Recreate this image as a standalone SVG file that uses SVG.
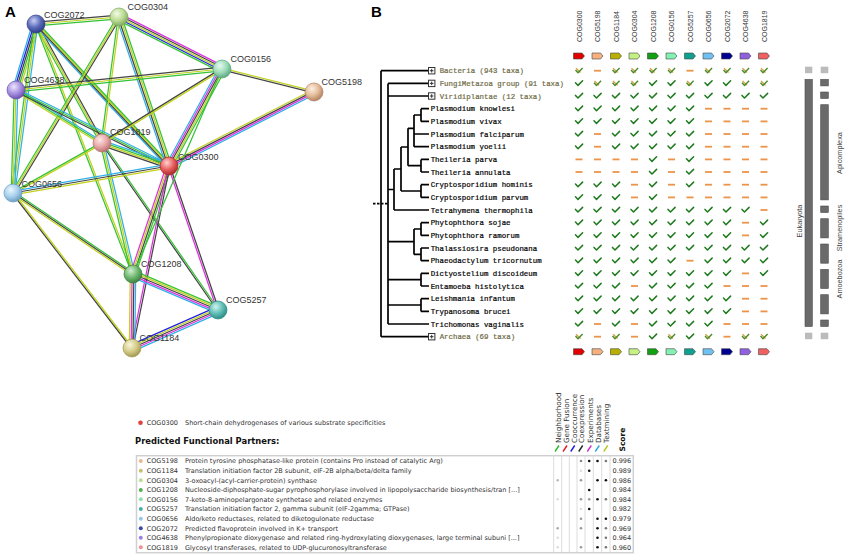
<svg xmlns="http://www.w3.org/2000/svg" width="850" height="555" viewBox="0 0 850 555">
<style>
.hd{font-family:"Liberation Sans",Arial,sans-serif;font-size:15px;font-weight:bold;fill:#000}
.nl{font-family:"Liberation Sans",Arial,sans-serif;font-size:9px;fill:#333}
.cn{fill:none;stroke-width:1.25}
.G{stroke:#36c236}.Y{stroke:#c0d21e}.K{stroke:#444}.C{stroke:#30b0e6}.M{stroke:#e030e0}.B{stroke:#2020e0}
.tx{font-family:"Liberation Mono","DejaVu Sans Mono",monospace;font-size:7.4px;fill:#000;stroke:#000;stroke-width:0.2}
.cl{fill:#6e6b45;stroke:#6e6b45}
.tr{fill:none;stroke:#000;stroke-width:1.7}
.ch{font-family:"Liberation Sans",Arial,sans-serif;font-size:7px;fill:#333}
.bl{fill:#bbb}
.bd{fill:#6a6a6a;stroke:#4a4a4a;stroke-width:.6}
.sl{font-family:"Liberation Sans",Arial,sans-serif;font-size:7.3px;fill:#444}
.ft{font-family:"DejaVu Sans",Verdana,sans-serif;font-size:6.5px;fill:#333}
.ev{font-family:"DejaVu Sans",Verdana,sans-serif;font-size:7.2px;fill:#333}
.nd{stroke-width:.7}
</style>
<defs>
<radialGradient id="g2072" cx="0.38" cy="0.32" r="0.7"><stop offset="0" stop-color="#c8cef4"/><stop offset="0.55" stop-color="#5a6ab8"/><stop offset="1" stop-color="#2e3a86"/></radialGradient>
<radialGradient id="g0304" cx="0.38" cy="0.32" r="0.7"><stop offset="0" stop-color="#f2fce4"/><stop offset="0.55" stop-color="#bcdc94"/><stop offset="1" stop-color="#7fa860"/></radialGradient>
<radialGradient id="g0156" cx="0.38" cy="0.32" r="0.7"><stop offset="0" stop-color="#e6faf0"/><stop offset="0.55" stop-color="#9edcb8"/><stop offset="1" stop-color="#5aa682"/></radialGradient>
<radialGradient id="g5198" cx="0.38" cy="0.32" r="0.7"><stop offset="0" stop-color="#fdf0e4"/><stop offset="0.55" stop-color="#e4bc98"/><stop offset="1" stop-color="#b08060"/></radialGradient>
<radialGradient id="g4638" cx="0.38" cy="0.32" r="0.7"><stop offset="0" stop-color="#ece6fc"/><stop offset="0.55" stop-color="#a890e0"/><stop offset="1" stop-color="#6a50b0"/></radialGradient>
<radialGradient id="g1819" cx="0.38" cy="0.32" r="0.7"><stop offset="0" stop-color="#fde8e8"/><stop offset="0.55" stop-color="#e8a8a8"/><stop offset="1" stop-color="#b87070"/></radialGradient>
<radialGradient id="g0300" cx="0.38" cy="0.32" r="0.7"><stop offset="0" stop-color="#ffd0d0"/><stop offset="0.55" stop-color="#e86060"/><stop offset="1" stop-color="#a82828"/></radialGradient>
<radialGradient id="g0656" cx="0.38" cy="0.32" r="0.7"><stop offset="0" stop-color="#eaf6fe"/><stop offset="0.55" stop-color="#a8d0ec"/><stop offset="1" stop-color="#6a9cc4"/></radialGradient>
<radialGradient id="g1208" cx="0.38" cy="0.32" r="0.7"><stop offset="0" stop-color="#d0eed0"/><stop offset="0.55" stop-color="#70b870"/><stop offset="1" stop-color="#3a803a"/></radialGradient>
<radialGradient id="g5257" cx="0.38" cy="0.32" r="0.7"><stop offset="0" stop-color="#d0f4f0"/><stop offset="0.55" stop-color="#60beb6"/><stop offset="1" stop-color="#2a8a84"/></radialGradient>
<radialGradient id="g1184" cx="0.38" cy="0.32" r="0.7"><stop offset="0" stop-color="#f8f6dc"/><stop offset="0.55" stop-color="#d4cc88"/><stop offset="1" stop-color="#a09850"/></radialGradient>
<path id="eAP" d="M36,24L119,17"/>
<path id="eAQ" d="M36,24L16,90"/>
<path id="eAO" d="M36,24L13,193"/>
<path id="eAL" d="M36,24L102,143"/>
<path id="eAR" d="M36,24L169,166"/>
<path id="eAN" d="M36,24L133,274"/>
<path id="ePF" d="M119,17L222,69"/>
<path id="ePR" d="M119,17L169,166"/>
<path id="ePL" d="M119,17L102,143"/>
<path id="ePO" d="M119,17L13,193"/>
<path id="eQF" d="M16,90L222,69"/>
<path id="eQL" d="M16,90L102,143"/>
<path id="eQR" d="M16,90L169,166"/>
<path id="eQO" d="M16,90L13,193"/>
<path id="eLR" d="M102,143L169,166"/>
<path id="eLF" d="M102,143L222,69"/>
<path id="eLO" d="M102,143L13,193"/>
<path id="eLN" d="M102,143L133,274"/>
<path id="eLT" d="M102,143L218,310"/>
<path id="eOR" d="M13,193L169,166"/>
<path id="eON" d="M13,193L133,274"/>
<path id="eOU" d="M13,193L132,348"/>
<path id="eRF" d="M169,166L222,69"/>
<path id="eRS" d="M169,166L314,92"/>
<path id="eFS" d="M222,69L314,92"/>
<path id="eRN" d="M169,166L133,274"/>
<path id="eRU" d="M169,166L132,348"/>
<path id="eRT" d="M169,166L218,310"/>
<path id="eNT" d="M133,274L218,310"/>
<path id="eNU" d="M133,274L132,348"/>
<path id="eUT" d="M132,348L218,310"/>
<path id="eNF" d="M133,274L222,69"/>
<path id="v" d="M-3.5,-0.6L-1,2L3.6,-2.6" fill="none" stroke="#1f7a1f" stroke-width="1.5" stroke-linejoin="round" stroke-linecap="round"/>
<rect id="d" x="-3.5" y="-0.9" width="7" height="1.8" fill="#ec9448"/>
<g id="p"><path d="M-3,-2.4L1.5,1.8" stroke="#d4a040" stroke-width="1.3" fill="none"/><path d="M-3.5,-0.6L-1,2L3.6,-2.6" fill="none" stroke="#4a8a2a" stroke-width="1.4" stroke-linejoin="round"/></g>
<path id="tag" d="M-5.5,-3H3L5.5,0L3,3H-5.5Z" stroke="#444" stroke-width="0.6"/>
<g id="bx"><rect x="-3.2" y="-3.2" width="6.4" height="6.4" fill="#fff" stroke="#333" stroke-width="1"/><path d="M-1.8,0H1.8M0,-1.8V1.8" stroke="#333" stroke-width="1"/></g>
</defs>
<rect width="850" height="555" fill="#fff"/>
<text class="hd" x="5" y="17">A</text>
<text class="hd" x="371" y="17">B</text>

<g id="connectors" class="cn">
<g><use href="#eAP" y="-1.8" class="K"/><use href="#eAP" class="Y"/><use href="#eAP" y="1.8" class="G"/></g>
<g><use href="#eAQ" x="-3.6" class="C"/><use href="#eAQ" x="-1.8" class="B"/><use href="#eAQ" class="K"/><use href="#eAQ" x="1.8" class="G"/><use href="#eAQ" x="3.6" class="Y"/></g>
<g><use href="#eAO" x="-1.8" class="G"/><use href="#eAO" class="Y"/><use href="#eAO" x="1.8" class="C"/></g>
<g><use href="#eAL" x="-1.8" class="G"/><use href="#eAL" class="Y"/><use href="#eAL" x="1.8" class="K"/></g>
<g><use href="#eAR" x="-2.7" class="C"/><use href="#eAR" x="-0.9" class="K"/><use href="#eAR" x="0.9" class="Y"/><use href="#eAR" x="2.7" class="G"/></g>
<g><use href="#eAN" x="-0.9" class="G"/><use href="#eAN" x="0.9" class="Y"/></g>
<g><use href="#ePF" y="-3.6" class="M"/><use href="#ePF" y="-1.8" class="K"/><use href="#ePF" class="Y"/><use href="#ePF" y="1.8" class="B"/><use href="#ePF" y="3.6" class="G"/></g>
<g><use href="#ePR" x="-2.7" class="C"/><use href="#ePR" x="-0.9" class="K"/><use href="#ePR" x="0.9" class="Y"/><use href="#ePR" x="2.7" class="G"/></g>
<g><use href="#ePL" x="-0.9" class="G"/><use href="#ePL" x="0.9" class="Y"/></g>
<g><use href="#ePO" x="-1.8" class="G"/><use href="#ePO" class="Y"/><use href="#ePO" x="1.8" class="K"/></g>
<g><use href="#eQF" y="-1.8" class="K"/><use href="#eQF" class="Y"/><use href="#eQF" y="1.8" class="G"/></g>
<g><use href="#eQL" y="-1.8" class="C"/><use href="#eQL" class="G"/><use href="#eQL" y="1.8" class="Y"/></g>
<g><use href="#eQR" y="-1.8" class="C"/><use href="#eQR" class="G"/><use href="#eQR" y="1.8" class="K"/></g>
<g><use href="#eQO" x="-1.8" class="G"/><use href="#eQO" class="Y"/><use href="#eQO" x="1.8" class="C"/></g>
<g><use href="#eLR" y="-2.7" class="C"/><use href="#eLR" y="-0.9" class="G"/><use href="#eLR" y="0.9" class="Y"/><use href="#eLR" y="2.7" class="K"/></g>
<g><use href="#eLF" y="-0.9" class="K"/><use href="#eLF" y="0.9" class="Y"/></g>
<g><use href="#eLO" y="-0.9" class="G"/><use href="#eLO" y="0.9" class="Y"/></g>
<g><use href="#eLN" x="-1.8" class="G"/><use href="#eLN" class="Y"/><use href="#eLN" x="1.8" class="C"/></g>
<g><use href="#eLT" x="-0.9" class="K"/><use href="#eLT" x="0.9" class="G"/></g>
<g><use href="#eOR" y="-1.8" class="C"/><use href="#eOR" class="K"/><use href="#eOR" y="1.8" class="Y"/></g>
<g><use href="#eON" y="-1.8" class="G"/><use href="#eON" class="K"/><use href="#eON" y="1.8" class="Y"/></g>
<g><use href="#eOU" x="-0.9" class="K"/><use href="#eOU" x="0.9" class="Y"/></g>
<g><use href="#eRF" x="-3.6" class="C"/><use href="#eRF" x="-1.8" class="M"/><use href="#eRF" class="K"/><use href="#eRF" x="1.8" class="Y"/><use href="#eRF" x="3.6" class="G"/></g>
<g><use href="#eRS" y="-2.7" class="Y"/><use href="#eRS" y="-0.9" class="K"/><use href="#eRS" y="0.9" class="M"/><use href="#eRS" y="2.7" class="C"/></g>
<g><use href="#eFS" y="-0.9" class="Y"/><use href="#eFS" y="0.9" class="K"/></g>
<g><use href="#eRN" x="-2.7" class="M"/><use href="#eRN" x="-0.9" class="Y"/><use href="#eRN" x="0.9" class="K"/><use href="#eRN" x="2.7" class="G"/></g>
<g><use href="#eRU" x="-0.9" class="M"/><use href="#eRU" x="0.9" class="K"/></g>
<g><use href="#eRT" x="-0.9" class="M"/><use href="#eRT" x="0.9" class="K"/></g>
<g><use href="#eNT" y="-3.6" class="G"/><use href="#eNT" y="-1.8" class="Y"/><use href="#eNT" class="K"/><use href="#eNT" y="1.8" class="M"/><use href="#eNT" y="3.6" class="C"/></g>
<g><use href="#eNU" x="-2.7" class="Y"/><use href="#eNU" x="-0.9" class="M"/><use href="#eNU" x="0.9" class="K"/><use href="#eNU" x="2.7" class="C"/></g>
<g><use href="#eUT" y="-3.6" class="B"/><use href="#eUT" y="-1.8" class="Y"/><use href="#eUT" class="K"/><use href="#eUT" y="1.8" class="M"/><use href="#eUT" y="3.6" class="C"/></g>
<g><use href="#eNF" class="G"/></g>
</g>

<g id="nodes">
<g id="n-COG2072"><circle class="nd" cx="36" cy="24" r="9" fill="url(#g2072)" stroke="#2e3a86"/><text class="nl" x="44" y="17.5">COG2072</text></g>
<g id="n-COG0304"><circle class="nd" cx="119" cy="17" r="9" fill="url(#g0304)" stroke="#7fa860"/><text class="nl" x="127.5" y="10">COG0304</text></g>
<g id="n-COG0156"><circle class="nd" cx="222" cy="69" r="9" fill="url(#g0156)" stroke="#5aa682"/><text class="nl" x="230.5" y="61.5">COG0156</text></g>
<g id="n-COG5198"><circle class="nd" cx="314" cy="92" r="9" fill="url(#g5198)" stroke="#b08060"/><text class="nl" x="321.5" y="84.5">COG5198</text></g>
<g id="n-COG4638"><circle class="nd" cx="16" cy="90" r="9" fill="url(#g4638)" stroke="#6a50b0"/><text class="nl" x="24" y="83">COG4638</text></g>
<g id="n-COG1819"><circle class="nd" cx="102" cy="143" r="9" fill="url(#g1819)" stroke="#b87070"/><text class="nl" x="110" y="134.5">COG1819</text></g>
<g id="n-COG0300"><circle class="nd" cx="169" cy="166" r="9" fill="url(#g0300)" stroke="#a82828"/><text class="nl" x="178" y="160">COG0300</text></g>
<g id="n-COG0656"><circle class="nd" cx="13" cy="193" r="9" fill="url(#g0656)" stroke="#6a9cc4"/><text class="nl" x="21.5" y="186.5">COG0656</text></g>
<g id="n-COG1208"><circle class="nd" cx="133" cy="274" r="9" fill="url(#g1208)" stroke="#3a803a"/><text class="nl" x="141" y="267">COG1208</text></g>
<g id="n-COG5257"><circle class="nd" cx="218" cy="310" r="9" fill="url(#g5257)" stroke="#2a8a84"/><text class="nl" x="226" y="303">COG5257</text></g>
<g id="n-COG1184"><circle class="nd" cx="132" cy="348" r="9" fill="url(#g1184)" stroke="#a09850"/><text class="nl" x="139.5" y="341">COG1184</text></g>
</g>

<g id="tree">
<path class="tr" d="M381,70.7V336.7M381,70.7H428M381,336.7H428
M388,83.4V324M388,83.4H428M388,96H428M388,324H429
M388,189.5H394M394,169V210M394,210H429M394,169H401M401,147V191M401,147H408M401,191H421
M408,128.3V165.7M408,128.3H414M408,165.7H421M414,115V146.7M414,115H421M414,134H429M414,146.7H429
M421,108.7V121.4M421,108.7H429M421,121.4H429M421,159.4V172M421,159.4H429M421,172H429
M421,184.7V197.4M421,184.7H429M421,197.4H429
M388,241.7H414M414,229V254.4M414,229H421M414,254.4H421
M421,222.7V235.4M421,222.7H429M421,235.4H429M421,248V260.7M421,248H429M421,260.7H429
M388,279.7H421M421,273.4V286M421,273.4H429M421,286H429
M388,305H421M421,298.7V311.4M421,298.7H429M421,311.4H429"/>
<path d="M373,203.7H388" stroke="#000" stroke-width="1.7" stroke-dasharray="2.5,1.5" fill="none"/>
<use href="#bx" x="431.7" y="70.7"/><use href="#bx" x="431.7" y="83.4"/><use href="#bx" x="431.7" y="96"/><use href="#bx" x="431.7" y="336.7"/>
<text class="tx cl" x="439.7" y="73.3">Bacteria (943 taxa)</text>
<text class="tx cl" x="439.7" y="86">FungiMetazoa group (91 taxa)</text>
<text class="tx cl" x="439.7" y="98.6">Viridiplantae (12 taxa)</text>
<text class="tx" x="430.7" y="111.3">Plasmodium knowlesi</text>
<text class="tx" x="430.7" y="124">Plasmodium vivax</text>
<text class="tx" x="430.7" y="136.6">Plasmodium falciparum</text>
<text class="tx" x="430.7" y="149.3">Plasmodium yoelii</text>
<text class="tx" x="430.7" y="162">Theileria parva</text>
<text class="tx" x="430.7" y="174.6">Theileria annulata</text>
<text class="tx" x="430.7" y="187.3">Cryptosporidium hominis</text>
<text class="tx" x="430.7" y="200">Cryptosporidium parvum</text>
<text class="tx" x="430.7" y="212.6">Tetrahymena thermophila</text>
<text class="tx" x="430.7" y="225.3">Phytophthora sojae</text>
<text class="tx" x="430.7" y="238">Phytophthora ramorum</text>
<text class="tx" x="430.7" y="250.6">Thalassiosira pseudonana</text>
<text class="tx" x="430.7" y="263.3">Phaeodactylum tricornutum</text>
<text class="tx" x="430.7" y="276">Dictyostelium discoideum</text>
<text class="tx" x="430.7" y="288.6">Entamoeba histolytica</text>
<text class="tx" x="430.7" y="301.3">Leishmania infantum</text>
<text class="tx" x="430.7" y="314">Trypanosoma brucei</text>
<text class="tx" x="430.7" y="326.6">Trichomonas vaginalis</text>
<text class="tx cl" x="439.7" y="339.3">Archaea (69 taxa)</text>
</g>

<g id="matrix-header">
<text class="ch" transform="translate(581.6,42) rotate(-90)">COG0300</text>
<text class="ch" transform="translate(600.1,42) rotate(-90)">COG5198</text>
<text class="ch" transform="translate(618.6,42) rotate(-90)">COG1184</text>
<text class="ch" transform="translate(637.1,42) rotate(-90)">COG0304</text>
<text class="ch" transform="translate(655.6,42) rotate(-90)">COG1208</text>
<text class="ch" transform="translate(674.1,42) rotate(-90)">COG0156</text>
<text class="ch" transform="translate(692.6,42) rotate(-90)">COG5257</text>
<text class="ch" transform="translate(711.1,42) rotate(-90)">COG0656</text>
<text class="ch" transform="translate(729.6,42) rotate(-90)">COG2072</text>
<text class="ch" transform="translate(748.1,42) rotate(-90)">COG4638</text>
<text class="ch" transform="translate(766.6,42) rotate(-90)">COG1819</text>
<g transform="translate(0,56)">
<use href="#tag" x="579" fill="#e00000"/><use href="#tag" x="597.5" fill="#f4b080"/><use href="#tag" x="616" fill="#b8b000"/><use href="#tag" x="634.5" fill="#c4f084"/><use href="#tag" x="653" fill="#10a010"/><use href="#tag" x="671.5" fill="#84f0b4"/><use href="#tag" x="690" fill="#10a090"/><use href="#tag" x="708.5" fill="#70c0f0"/><use href="#tag" x="727" fill="#000090"/><use href="#tag" x="745.5" fill="#9060e0"/><use href="#tag" x="764" fill="#f06060"/>
</g>
<g transform="translate(0,351.7)">
<use href="#tag" x="579" fill="#e00000"/><use href="#tag" x="597.5" fill="#f4b080"/><use href="#tag" x="616" fill="#b8b000"/><use href="#tag" x="634.5" fill="#c4f084"/><use href="#tag" x="653" fill="#10a010"/><use href="#tag" x="671.5" fill="#84f0b4"/><use href="#tag" x="690" fill="#10a090"/><use href="#tag" x="708.5" fill="#70c0f0"/><use href="#tag" x="727" fill="#000090"/><use href="#tag" x="745.5" fill="#9060e0"/><use href="#tag" x="764" fill="#f06060"/>
</g>
</g>

<g id="matrix">
<g transform="translate(0,70.7)"><use href="#p" x="579"/><use href="#d" x="597.5"/><use href="#p" x="616"/><use href="#p" x="634.5"/><use href="#p" x="653"/><use href="#p" x="671.5"/><use href="#d" x="690"/><use href="#p" x="708.5"/><use href="#p" x="727"/><use href="#p" x="745.5"/><use href="#p" x="764"/></g>
<g transform="translate(0,83.4)"><use href="#v" x="579"/><use href="#p" x="597.5"/><use href="#p" x="616"/><use href="#p" x="634.5"/><use href="#v" x="653"/><use href="#v" x="671.5"/><use href="#p" x="690"/><use href="#v" x="708.5"/><use href="#v" x="727"/><use href="#p" x="745.5"/><use href="#p" x="764"/></g>
<g transform="translate(0,96)"><use href="#v" x="579"/><use href="#v" x="597.5"/><use href="#v" x="616"/><use href="#v" x="634.5"/><use href="#v" x="653"/><use href="#v" x="671.5"/><use href="#v" x="690"/><use href="#v" x="708.5"/><use href="#v" x="727"/><use href="#v" x="745.5"/><use href="#v" x="764"/></g>
<g transform="translate(0,108.7)"><use href="#v" x="579"/><use href="#v" x="597.5"/><use href="#v" x="616"/><use href="#v" x="634.5"/><use href="#v" x="653"/><use href="#v" x="671.5"/><use href="#v" x="690"/><use href="#d" x="708.5"/><use href="#d" x="727"/><use href="#d" x="745.5"/><use href="#d" x="764"/></g>
<g transform="translate(0,121.4)"><use href="#v" x="579"/><use href="#v" x="597.5"/><use href="#v" x="616"/><use href="#v" x="634.5"/><use href="#v" x="653"/><use href="#v" x="671.5"/><use href="#v" x="690"/><use href="#d" x="708.5"/><use href="#d" x="727"/><use href="#d" x="745.5"/><use href="#d" x="764"/></g>
<g transform="translate(0,134)"><use href="#v" x="579"/><use href="#d" x="597.5"/><use href="#v" x="616"/><use href="#v" x="634.5"/><use href="#v" x="653"/><use href="#v" x="671.5"/><use href="#v" x="690"/><use href="#d" x="708.5"/><use href="#d" x="727"/><use href="#d" x="745.5"/><use href="#d" x="764"/></g>
<g transform="translate(0,146.7)"><use href="#v" x="579"/><use href="#d" x="597.5"/><use href="#v" x="616"/><use href="#v" x="634.5"/><use href="#v" x="653"/><use href="#v" x="671.5"/><use href="#v" x="690"/><use href="#d" x="708.5"/><use href="#d" x="727"/><use href="#d" x="745.5"/><use href="#d" x="764"/></g>
<g transform="translate(0,159.4)"><use href="#d" x="579"/><use href="#d" x="597.5"/><use href="#d" x="616"/><use href="#d" x="634.5"/><use href="#v" x="653"/><use href="#d" x="671.5"/><use href="#v" x="690"/><use href="#d" x="708.5"/><use href="#d" x="727"/><use href="#d" x="745.5"/><use href="#d" x="764"/></g>
<g transform="translate(0,172)"><use href="#d" x="579"/><use href="#d" x="597.5"/><use href="#d" x="616"/><use href="#d" x="634.5"/><use href="#v" x="653"/><use href="#d" x="671.5"/><use href="#v" x="690"/><use href="#d" x="708.5"/><use href="#d" x="727"/><use href="#d" x="745.5"/><use href="#d" x="764"/></g>
<g transform="translate(0,184.7)"><use href="#v" x="579"/><use href="#v" x="597.5"/><use href="#v" x="616"/><use href="#d" x="634.5"/><use href="#v" x="653"/><use href="#d" x="671.5"/><use href="#v" x="690"/><use href="#d" x="708.5"/><use href="#d" x="727"/><use href="#d" x="745.5"/><use href="#d" x="764"/></g>
<g transform="translate(0,197.4)"><use href="#v" x="579"/><use href="#v" x="597.5"/><use href="#v" x="616"/><use href="#d" x="634.5"/><use href="#v" x="653"/><use href="#d" x="671.5"/><use href="#d" x="690"/><use href="#d" x="708.5"/><use href="#d" x="727"/><use href="#d" x="745.5"/><use href="#d" x="764"/></g>
<g transform="translate(0,210)"><use href="#v" x="579"/><use href="#v" x="597.5"/><use href="#v" x="616"/><use href="#v" x="634.5"/><use href="#v" x="653"/><use href="#v" x="671.5"/><use href="#v" x="690"/><use href="#v" x="708.5"/><use href="#v" x="727"/><use href="#v" x="745.5"/><use href="#d" x="764"/></g>
<g transform="translate(0,222.7)"><use href="#v" x="579"/><use href="#v" x="597.5"/><use href="#v" x="616"/><use href="#v" x="634.5"/><use href="#v" x="653"/><use href="#v" x="671.5"/><use href="#v" x="690"/><use href="#v" x="708.5"/><use href="#v" x="727"/><use href="#d" x="745.5"/><use href="#v" x="764"/></g>
<g transform="translate(0,235.4)"><use href="#v" x="579"/><use href="#v" x="597.5"/><use href="#v" x="616"/><use href="#v" x="634.5"/><use href="#v" x="653"/><use href="#v" x="671.5"/><use href="#v" x="690"/><use href="#v" x="708.5"/><use href="#v" x="727"/><use href="#d" x="745.5"/><use href="#v" x="764"/></g>
<g transform="translate(0,248)"><use href="#v" x="579"/><use href="#v" x="597.5"/><use href="#v" x="616"/><use href="#v" x="634.5"/><use href="#v" x="653"/><use href="#v" x="671.5"/><use href="#v" x="690"/><use href="#v" x="708.5"/><use href="#v" x="727"/><use href="#v" x="745.5"/><use href="#v" x="764"/></g>
<g transform="translate(0,260.7)"><use href="#v" x="579"/><use href="#v" x="597.5"/><use href="#v" x="616"/><use href="#v" x="634.5"/><use href="#v" x="653"/><use href="#v" x="671.5"/><use href="#d" x="690"/><use href="#v" x="708.5"/><use href="#v" x="727"/><use href="#v" x="745.5"/><use href="#v" x="764"/></g>
<g transform="translate(0,273.4)"><use href="#v" x="579"/><use href="#v" x="597.5"/><use href="#v" x="616"/><use href="#v" x="634.5"/><use href="#v" x="653"/><use href="#v" x="671.5"/><use href="#v" x="690"/><use href="#v" x="708.5"/><use href="#v" x="727"/><use href="#d" x="745.5"/><use href="#v" x="764"/></g>
<g transform="translate(0,286)"><use href="#v" x="579"/><use href="#v" x="597.5"/><use href="#v" x="616"/><use href="#d" x="634.5"/><use href="#v" x="653"/><use href="#v" x="671.5"/><use href="#v" x="690"/><use href="#v" x="708.5"/><use href="#d" x="727"/><use href="#d" x="745.5"/><use href="#d" x="764"/></g>
<g transform="translate(0,298.7)"><use href="#v" x="579"/><use href="#v" x="597.5"/><use href="#v" x="616"/><use href="#v" x="634.5"/><use href="#v" x="653"/><use href="#v" x="671.5"/><use href="#v" x="690"/><use href="#v" x="708.5"/><use href="#v" x="727"/><use href="#d" x="745.5"/><use href="#d" x="764"/></g>
<g transform="translate(0,311.4)"><use href="#v" x="579"/><use href="#v" x="597.5"/><use href="#v" x="616"/><use href="#v" x="634.5"/><use href="#v" x="653"/><use href="#v" x="671.5"/><use href="#v" x="690"/><use href="#v" x="708.5"/><use href="#v" x="727"/><use href="#d" x="745.5"/><use href="#d" x="764"/></g>
<g transform="translate(0,324)"><use href="#v" x="579"/><use href="#d" x="597.5"/><use href="#v" x="616"/><use href="#d" x="634.5"/><use href="#v" x="653"/><use href="#v" x="671.5"/><use href="#v" x="690"/><use href="#v" x="708.5"/><use href="#d" x="727"/><use href="#d" x="745.5"/><use href="#d" x="764"/></g>
<g transform="translate(0,336.7)"><use href="#p" x="579"/><use href="#d" x="597.5"/><use href="#p" x="616"/><use href="#d" x="634.5"/><use href="#v" x="653"/><use href="#p" x="671.5"/><use href="#v" x="690"/><use href="#p" x="708.5"/><use href="#d" x="727"/><use href="#p" x="745.5"/><use href="#p" x="764"/></g>
</g>

<g id="clades">
<rect class="bl" x="805" y="66.7" width="7.3" height="6.5"/>
<rect class="bd" x="805" y="79.4" width="7.3" height="247.1"/>
<rect class="bl" x="805" y="332.7" width="7.3" height="6.5"/>
<rect class="bl" x="820.7" y="66.7" width="7.6" height="6.5"/>
<rect class="bd" x="820.7" y="79.4" width="7.6" height="6.5"/>
<rect class="bd" x="820.7" y="92" width="7.6" height="6.5"/>
<rect class="bd" x="820.7" y="104.7" width="7.6" height="95.2"/>
<rect class="bd" x="820.7" y="206" width="7.6" height="6.5"/>
<rect class="bd" x="820.7" y="218.7" width="7.6" height="19.2"/>
<rect class="bd" x="820.7" y="244" width="7.6" height="19.2"/>
<rect class="bd" x="820.7" y="269.4" width="7.6" height="19.1"/>
<rect class="bd" x="820.7" y="294.7" width="7.6" height="19.2"/>
<rect class="bd" x="820.7" y="320" width="7.6" height="6.5"/>
<rect class="bl" x="820.7" y="332.7" width="7.6" height="6.5"/>
<text class="sl" font-size="10" text-anchor="middle" transform="translate(801.5,221) rotate(-90)">Eukaryota</text>
<text class="sl" text-anchor="middle" transform="translate(842,153) rotate(-90)">Apicomplexa</text>
<text class="sl" text-anchor="middle" transform="translate(842,228) rotate(-90)">Stramenopiles</text>
<text class="sl" text-anchor="middle" transform="translate(842,279) rotate(-90)">Amoebozoa</text>
</g>

<g id="partners">
<circle cx="140.5" cy="422.7" r="2.3" fill="#e04040"/>
<text class="ft" x="146.7" y="425">COG0300</text>
<text class="ft" x="185" y="425">Short-chain dehydrogenases of various substrate specificities</text>
<text x="135" y="444" font-family="'DejaVu Sans',Verdana,sans-serif" font-size="8.4" font-weight="bold" fill="#111">Predicted Functional Partners:</text>
<text class="ev" transform="translate(561,443) rotate(-90)">Neighborhood</text>
<text class="ev" transform="translate(568.7,443) rotate(-90)">Gene Fusion</text>
<text class="ev" transform="translate(576.5,443) rotate(-90)">Cooccurrence</text>
<text class="ev" transform="translate(584.3,443) rotate(-90)">Coexpression</text>
<text class="ev" transform="translate(592.5,443) rotate(-90)">Experiments</text>
<text class="ev" transform="translate(600.7,443) rotate(-90)">Databases</text>
<text class="ev" transform="translate(609.2,443) rotate(-90)">Textmining</text>
<text transform="translate(625,451.5) rotate(-90)" font-family="'DejaVu Sans',Verdana,sans-serif" font-size="7.5" font-weight="bold" fill="#111">Score</text>
<g stroke-width="1.4" fill="none">
<path d="M555,451.5L559,445.5" stroke="#2fb82f"/>
<path d="M563,451.5L567,445.5" stroke="#e02020"/>
<path d="M570.7,451.5L574.7,445.5" stroke="#2020d0"/>
<path d="M578.7,451.5L582.7,445.5" stroke="#222"/>
<path d="M587.3,451.5L591.3,445.5" stroke="#d030d0"/>
<path d="M595.3,451.5L599.3,445.5" stroke="#30a8e0"/>
<path d="M603.7,451.5L607.7,445.5" stroke="#b8c820"/>
</g>
<rect x="136.5" y="455.7" width="496.8" height="97" fill="none" stroke="#d0d0d0" stroke-width="1.5"/>
<path d="M553.7,455.7V552.7M561.7,455.7V552.7M569.3,455.7V552.7M577,455.7V552.7M585,455.7V552.7M593.3,455.7V552.7M601.7,455.7V552.7M610,455.7V552.7" stroke="#dcdcdc" stroke-width="1"/>
<g class="ft">
<circle cx="140.8" cy="461" r="2" fill="#e8b890"/><text x="146.7" y="463.3">COG5198</text><text x="185" y="463.3">Protein tyrosine phosphatase-like protein (contains Pro instead of catalytic Arg)</text><text x="612.5" y="463.3">0.996</text>
<circle cx="140.8" cy="470.7" r="2" fill="#c8c070"/><text x="146.7" y="473">COG1184</text><text x="185" y="473">Translation initiation factor 2B subunit, eIF-2B alpha/beta/delta family</text><text x="612.5" y="473">0.989</text>
<circle cx="140.8" cy="480.3" r="2" fill="#b8e090"/><text x="146.7" y="482.6">COG0304</text><text x="185" y="482.6">3-oxoacyl-(acyl-carrier-protein) synthase</text><text x="612.5" y="482.6">0.986</text>
<circle cx="140.8" cy="490" r="2" fill="#50b050"/><text x="146.7" y="492.3">COG1208</text><text x="185" y="492.3">Nucleoside-diphosphate-sugar pyrophosphorylase involved in lipopolysaccharide biosynthesis/tran [...]</text><text x="612.5" y="492.3">0.984</text>
<circle cx="140.8" cy="499.3" r="2" fill="#90e0b0"/><text x="146.7" y="501.6">COG0156</text><text x="185" y="501.6">7-keto-8-aminopelargonate synthetase and related enzymes</text><text x="612.5" y="501.6">0.984</text>
<circle cx="140.8" cy="509" r="2" fill="#40b0a8"/><text x="146.7" y="511.3">COG5257</text><text x="185" y="511.3">Translation initiation factor 2, gamma subunit (eIF-2gamma; GTPase)</text><text x="612.5" y="511.3">0.982</text>
<circle cx="140.8" cy="518.7" r="2" fill="#90c8ec"/><text x="146.7" y="521">COG0656</text><text x="185" y="521">Aldo/keto reductases, related to diketogulonate reductase</text><text x="612.5" y="521">0.979</text>
<circle cx="140.8" cy="528.3" r="2" fill="#3a4aa8"/><text x="146.7" y="530.6">COG2072</text><text x="185" y="530.6">Predicted flavoprotein involved in K+ transport</text><text x="612.5" y="530.6">0.969</text>
<circle cx="140.8" cy="537.7" r="2" fill="#9a80e0"/><text x="146.7" y="540">COG4638</text><text x="185" y="540">Phenylpropionate dioxygenase and related ring-hydroxylating dioxygenases, large terminal subuni [...]</text><text x="612.5" y="540">0.964</text>
<circle cx="140.8" cy="547.3" r="2" fill="#f09090"/><text x="146.7" y="549.6">COG1819</text><text x="185" y="549.6">Glycosyl transferases, related to UDP-glucuronosyltransferase</text><text x="612.5" y="549.6">0.960</text>
</g>
<g>
<circle cx="581" cy="461" r="1.3" fill="#888"/><circle cx="589.2" cy="461" r="1.3" fill="#111"/><circle cx="597.5" cy="461" r="1.3" fill="#111"/><circle cx="605.9" cy="461" r="1.3" fill="#777"/>
<circle cx="581" cy="470.7" r="1.3" fill="#ddd"/><circle cx="589.2" cy="470.7" r="1.3" fill="#111"/>
<circle cx="557.7" cy="480.3" r="1.3" fill="#bbb"/><circle cx="581" cy="480.3" r="1.3" fill="#999"/><circle cx="597.5" cy="480.3" r="1.3" fill="#111"/><circle cx="605.9" cy="480.3" r="1.3" fill="#111"/>
<circle cx="589.2" cy="490" r="1.3" fill="#111"/>
<circle cx="557.7" cy="499.3" r="1.3" fill="#ddd"/><circle cx="581" cy="499.3" r="1.3" fill="#999"/><circle cx="589.2" cy="499.3" r="1.3" fill="#999"/><circle cx="597.5" cy="499.3" r="1.3" fill="#111"/><circle cx="605.9" cy="499.3" r="1.3" fill="#777"/>
<circle cx="581" cy="509" r="1.3" fill="#ddd"/><circle cx="589.2" cy="509" r="1.3" fill="#111"/>
<circle cx="581" cy="518.7" r="1.3" fill="#999"/><circle cx="597.5" cy="518.7" r="1.3" fill="#111"/><circle cx="605.9" cy="518.7" r="1.3" fill="#111"/>
<circle cx="557.7" cy="528.3" r="1.3" fill="#aaa"/><circle cx="581" cy="528.3" r="1.3" fill="#999"/><circle cx="597.5" cy="528.3" r="1.3" fill="#111"/><circle cx="605.9" cy="528.3" r="1.3" fill="#777"/>
<circle cx="557.7" cy="537.7" r="1.3" fill="#ddd"/><circle cx="597.5" cy="537.7" r="1.3" fill="#111"/><circle cx="605.9" cy="537.7" r="1.3" fill="#777"/>
<circle cx="557.7" cy="547.3" r="1.3" fill="#ddd"/><circle cx="581" cy="547.3" r="1.3" fill="#999"/><circle cx="597.5" cy="547.3" r="1.3" fill="#111"/><circle cx="605.9" cy="547.3" r="1.3" fill="#777"/>
</g>
</g>
</svg>
